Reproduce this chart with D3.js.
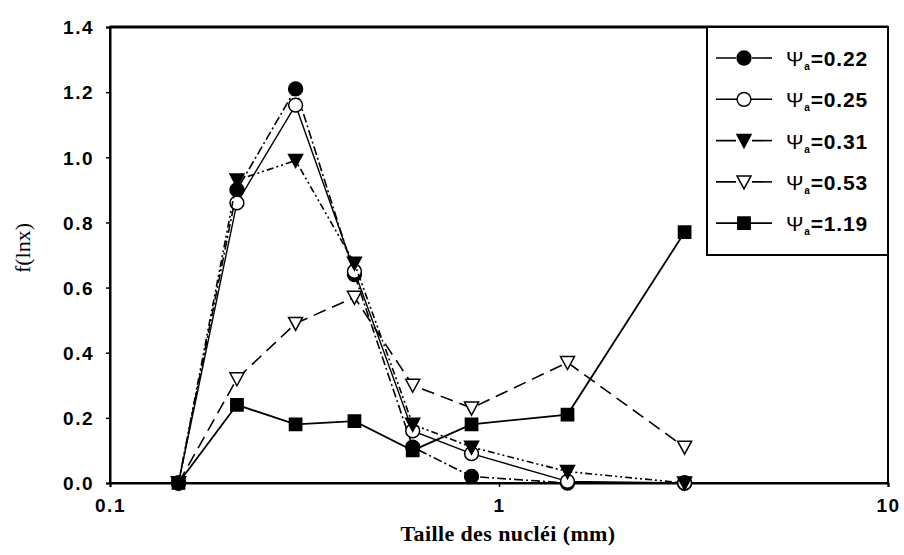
<!DOCTYPE html>
<html>
<head>
<meta charset="utf-8">
<script src="https://cdn.jsdelivr.net/npm/d3@7"></script>
<style>
body { margin: 0; background: #fff; }
</style>
</head>
<body>
<script>
var sizes = [0.15, 0.212, 0.3, 0.425, 0.6, 0.85, 1.5, 3.0]; // mm
var psi = ["0.22", "0.25", "0.31", "0.53", "1.19"];
var s022 = [0, 0.90, 1.21, 0.64, 0.11, 0.02, 0, 0];
var s025 = [0, 0.86, 1.16, 0.65, 0.16, 0.09, 0.005, 0];
var s031 = [0, 0.93, 0.99, 0.675, 0.18, 0.11, 0.035, 0];
var s053 = [0, 0.32, 0.49, 0.57, 0.30, 0.23, 0.37, 0.11];
var s119 = [0, 0.24, 0.18, 0.19, 0.10, 0.18, 0.21, 0.77];
var yTicks = [0, 0.2, 0.4, 0.6, 0.8, 1.0, 1.2, 1.4];
var xTicks = [0.1, 1, 10];

// look of each series, same order as psi
var styles = [
	{vals: s022, shape: "circle", fill: "#000", dash: "9,3,2,3", width: 1.6},
	{vals: s025, shape: "circle", fill: "#fff", dash: null, width: 1.4},
	{vals: s031, shape: "tri", fill: "#000", dash: "7,3,2,3,2,3", width: 1.6},
	{vals: s053, shape: "tri", fill: "#fff", dash: "13,7", width: 1.6},
	{vals: s119, shape: "square", fill: "#000", dash: null, width: 1.8}
];

var W = 904, H = 555;
var sans = "Arial, 'Liberation Sans', sans-serif";
var serif = "'Liberation Serif', 'Times New Roman', serif";
var svg = d3.select("body").append("svg").attr("width", W).attr("height", H);

var x = d3.scaleLog().domain([0.1, 10]).range([110, 888]);
var y = d3.scaleLinear().domain([0, 1.4]).range([483, 27]);

/* frame */
svg.append("rect")
	.attr("x", x.range()[0]).attr("y", y.range()[1])
	.attr("width", x.range()[1] - x.range()[0])
	.attr("height", y.range()[0] - y.range()[1])
	.style("fill", "none").style("stroke", "#000").style("stroke-width", 2);
svg.append("line")
	.attr("x1", 110).attr("x2", 888).attr("y1", 27).attr("y2", 27)
	.style("stroke", "#000").style("stroke-width", 3);

var yAxis = svg.append("g")
	.attr("transform", "translate(110,0)")
	.call(d3.axisLeft(y).tickValues(yTicks).tickFormat(d3.format(".1f")).tickSize(4).tickPadding(12));
var xAxis = svg.append("g")
	.attr("transform", "translate(0,483)")
	.call(d3.axisBottom(x).tickValues(xTicks).tickFormat(function(d){ return d; }).tickSize(4).tickPadding(12));
[yAxis, xAxis].forEach(function(a){
	a.select(".domain").style("stroke-width", 2);
	a.selectAll(".tick line").style("stroke-width", 1.5);
	a.selectAll(".tick text")
		.style("font-family", sans).style("font-size", "19px")
		.style("font-weight", "bold").style("letter-spacing", "1.5px")
		.style("fill", "#000");
});
yAxis.selectAll(".tick text").attr("dy", "0.36em");

svg.append("text")
	.attr("x", 508).attr("y", 541)
	.attr("text-anchor", "middle")
	.style("font-family", serif)
	.style("font-weight", "bold").style("font-size", "22px")
	.style("letter-spacing", "0.4px")
	.text("Taille des nucléi (mm)");
svg.append("text")
	.attr("transform", "translate(30,248) rotate(-90)")
	.attr("text-anchor", "middle")
	.style("font-family", serif)
	.style("font-size", "22px")
	.text("f(lnx)");

function markerPath(shape){
	if(shape === "circle") return d3.symbol().type(d3.symbolCircle).size(150)();
	if(shape === "square") return d3.symbol().type(d3.symbolSquare).size(150)();
	return "M-7,-6L7,-6L0,7Z";
}

var line = d3.line()
	.x(function(d){ return x(d[0]); })
	.y(function(d){ return y(d[1]); });

var series = svg.selectAll("g.series")
	.data(styles)
	.enter().append("g").classed("series", true);

series.append("path")
	.attr("d", function(s){ return line(d3.zip(sizes, s.vals)); })
	.style("fill", "none").style("stroke", "#000")
	.style("stroke-width", function(s){ return s.width; })
	.style("stroke-dasharray", function(s){ return s.dash; });

series.selectAll("path.mark")
	.data(function(s){ return d3.zip(sizes, s.vals).map(function(p){ return {p: p, s: s}; }); })
	.enter().append("path").classed("mark", true)
	.attr("transform", function(d){ return "translate(" + x(d.p[0]) + "," + y(d.p[1]) + ")"; })
	.attr("d", function(d){ return markerPath(d.s.shape); })
	.style("fill", function(d){ return d.s.fill; })
	.style("stroke", "#000").style("stroke-width", 1.5);

/* legend */
var leg = svg.append("g");
leg.append("rect")
	.attr("x", 707).attr("y", 27).attr("width", 181).attr("height", 228)
	.style("fill", "#fff").style("stroke", "#000").style("stroke-width", 2);
var row = leg.selectAll("g.row")
	.data(styles)
	.enter().append("g").classed("row", true)
	.attr("transform", function(d, i){ return "translate(0," + (58 + 41.3 * i) + ")"; });
row.append("line")
	.attr("x1", 716).attr("x2", 772).attr("y1", 0).attr("y2", 0)
	.style("stroke", "#000")
	.style("stroke-width", function(s){ return s.width; })
	.style("stroke-dasharray", function(s){ return s.dash ? "20,4,2,4,2,4" : null; });
row.append("path")
	.attr("transform", "translate(744,0)")
	.attr("d", function(s){ return markerPath(s.shape); })
	.style("fill", function(s){ return s.fill; })
	.style("stroke", "#000").style("stroke-width", 1.5);
var lt = row.append("text")
	.attr("x", 786).attr("y", 8)
	.style("font-family", sans)
	.style("font-size", "21px").style("font-weight", "bold")
	.style("letter-spacing", "0.8px");
lt.append("tspan").style("font-weight", "normal").text("Ψ");
lt.append("tspan").attr("dy", 4).style("font-size", "10px").text("a");
lt.append("tspan").attr("dy", -4).text(function(s, i){ return "=" + psi[i]; });
</script>
</body>
</html>
